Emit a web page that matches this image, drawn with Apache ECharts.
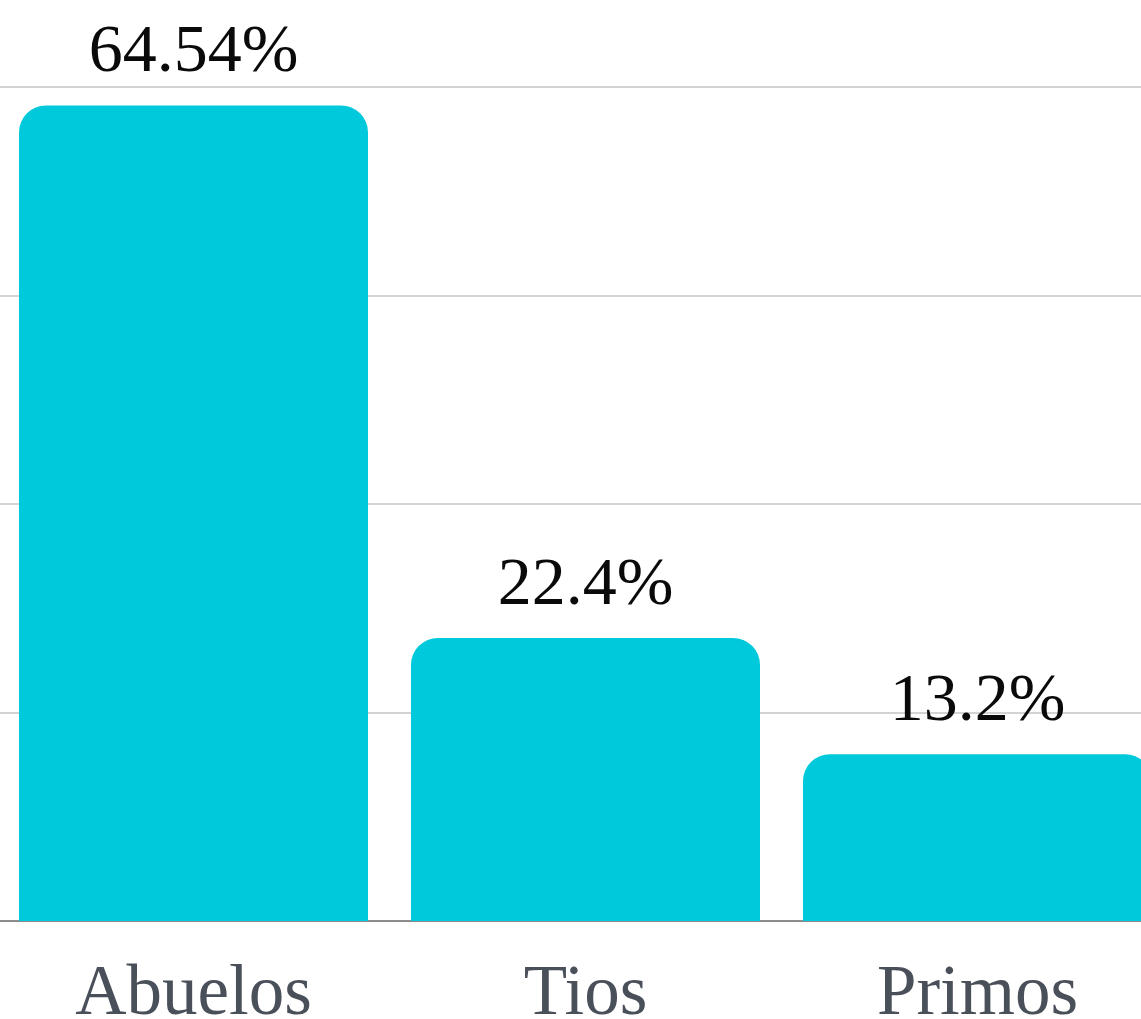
<!DOCTYPE html>
<html>
<head>
<meta charset="utf-8">
<script src="https://cdn.jsdelivr.net/npm/echarts@6/dist/echarts.min.js"></script>
<style>
  html, body { margin: 0; padding: 0; background: #ffffff; }
  #chart { width: 1141px; height: 1019px; }
</style>
</head>
<body>
<div id="chart"></div>
<script>
// Family members share (%)
const categories = ['Abuelos', 'Tios', 'Primos'];
const shares = [64.54, 22.4, 13.2];

const chart = echarts.init(document.getElementById('chart'), null, { renderer: 'canvas' });

chart.setOption({
  animation: false,
  backgroundColor: '#ffffff',
  grid: {
    left: -2.5, top: 87, right: -32.5, bottom: 98,
    containLabel: false,
    outerBoundsMode: 'none'
  },
  xAxis: {
    type: 'category',
    data: categories,
    axisLine: { show: true, lineStyle: { color: '#8c8c8c', width: 2 } },
    axisTick: { show: false },
    axisLabel: {
      margin: 39,
      fontFamily: '"Liberation Serif", serif',
      fontSize: 71,
      color: '#4a505a'
    }
  },
  yAxis: {
    type: 'value',
    min: 0,
    max: 66,
    interval: 16.5,
    axisLabel: { show: false },
    axisLine: { show: false },
    axisTick: { show: false },
    splitLine: { lineStyle: { color: '#d3d3d3', width: 2 } }
  },
  series: [{
    type: 'bar',
    data: shares,
    barWidth: 349,
    itemStyle: { color: '#00c9db', borderRadius: [27, 27, 0, 0] },
    label: {
      show: true,
      position: 'top',
      distance: 18,
      fontFamily: '"Liberation Serif", serif',
      fontSize: 68,
      color: '#0a0a0a',
      formatter: p => p.value + '%'
    }
  }]
});
</script>
</body>
</html>
